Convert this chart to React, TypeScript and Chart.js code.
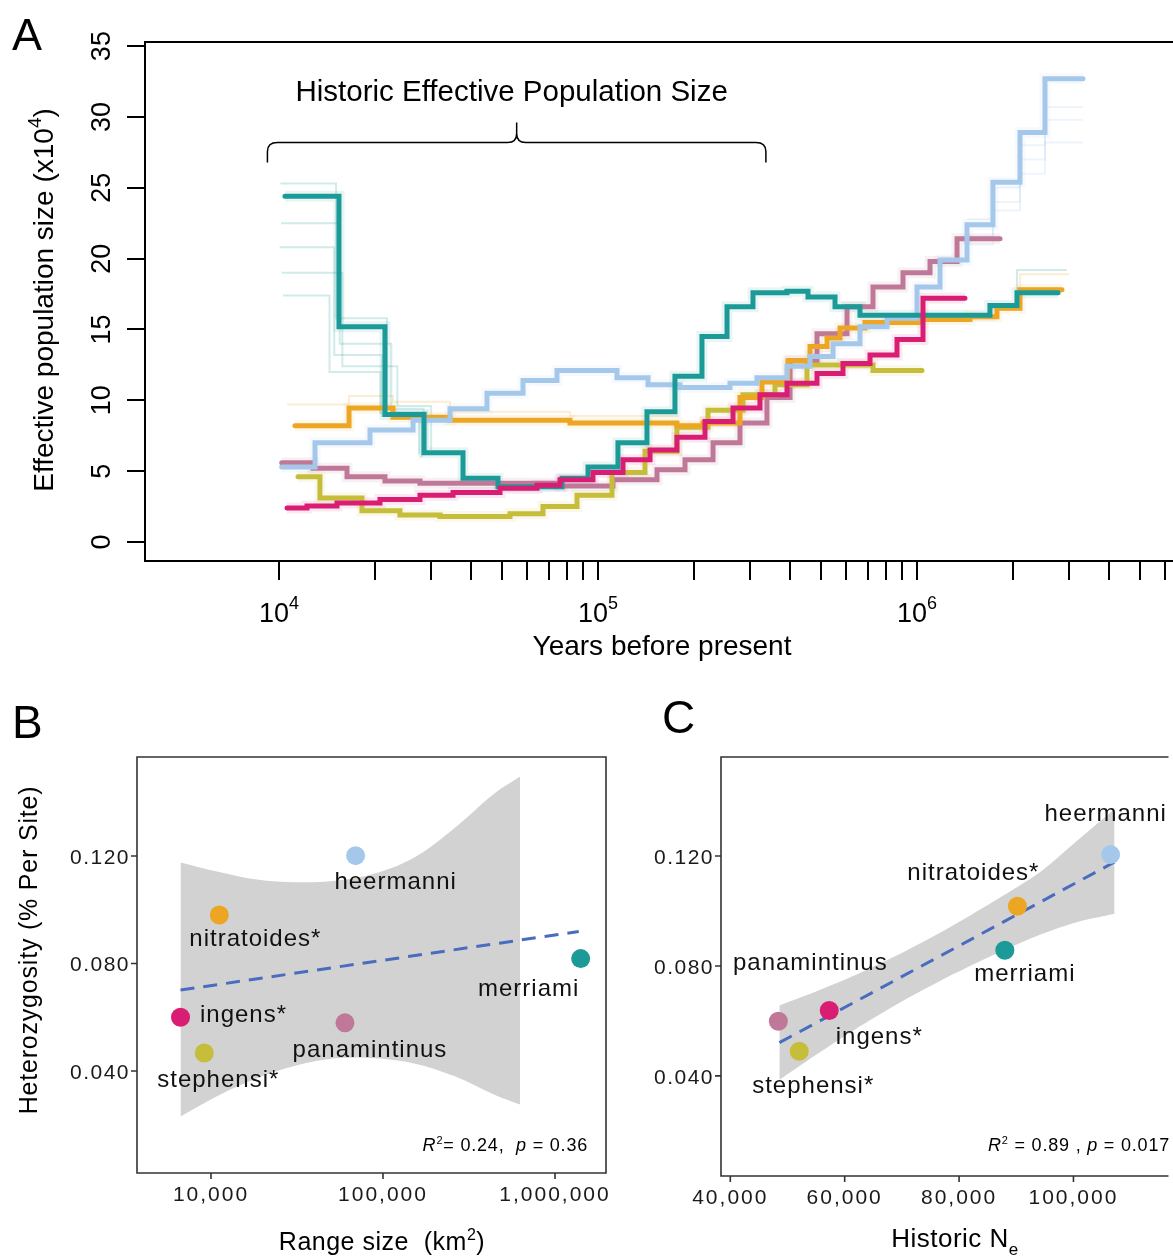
import React, { useEffect, useRef } from "react";
import { Chart, registerables } from "chart.js";

Chart.register(...registerables);

const FONT = '"Liberation Sans", Arial, Helvetica, sans-serif';

// ---------------- colours per species ----------------
const C_HEERMANNI = "#a5c8ea";
const C_NITRATOIDES = "#eca623";
const C_MERRIAMI = "#1b9a98";
const C_INGENS = "#d81d73";
const C_PANAMINTINUS = "#bf7898";
const C_STEPHENSI = "#c6bd3b";

// ---------------- Panel A: PSMC (years before present, Ne x10^4) ----------------
const merriamiYears = [10440, 15420, 21490, 28480, 37750, 48590, 77140, 93050, 115500, 142400, 174300, 211800, 253800, 306100, 391300, 455300, 553400, 662700, 1693000, 2058000, 2767000];
const merriamiNe = [24.4, 15.2, 9.0, 6.3, 4.5, 3.9, 4.5, 5.3, 7.0, 9.2, 11.7, 14.5, 16.6, 17.6, 17.7, 17.3, 16.6, 16.0, 16.7, 17.6, 17.6];

const heermanniYears = [10200, 12970, 19290, 26320, 34370, 44870, 58200, 74370, 114700, 143500, 180700, 259300, 315000, 391300, 462000, 545500, 662700, 805400, 1000000, 1181000, 1434500, 1730000, 2103000, 2519000, 3314000];
const heermanniNe = [5.3, 7.0, 7.9, 8.6, 9.4, 10.5, 11.4, 12.1, 11.6, 11.1, 10.9, 11.2, 11.6, 12.4, 13.1, 14.0, 15.2, 15.8, 18.0, 19.9, 22.4, 25.4, 28.9, 32.7, 32.7];

const nitratoidesYears = [11220, 16580, 22780, 34370, 81700, 176800, 213400, 278700, 326600, 394100, 462000, 522400, 573700, 687000, 1021900, 1466000, 1781000, 2103000, 2848000];
const nitratoidesNe = [8.2, 9.45, 8.8, 8.6, 8.4, 8.2, 8.4, 10.2, 11.3, 12.8, 13.8, 14.4, 15.1, 15.5, 15.7, 15.9, 16.5, 17.8, 17.8];

const panamintinusYears = [10200, 12780, 16340, 21490, 27670, 76020, 111400, 153100, 187400, 229400, 278700, 338600, 399900, 485900, 603400, 727900, 903900, 1098600, 1335000, 1821000];
const panamintinusNe = [5.6, 5.2, 4.6, 4.3, 4.15, 3.95, 4.4, 5.1, 5.8, 7.0, 8.4, 10.2, 12.8, 14.7, 16.6, 18.0, 19.0, 19.8, 21.4, 21.4];

const ingensYears = [10600, 12240, 15200, 20730, 27670, 35130, 49300, 64400, 76020, 96450, 119800, 145600, 176800, 216500, 265000, 321900, 391300, 485900, 586200, 712400, 865600, 1044300, 1414000];
const ingensNe = [2.4, 2.55, 2.75, 3.0, 3.3, 3.5, 3.8, 4.0, 4.4, 4.9, 5.8, 6.5, 7.4, 8.5, 9.45, 10.4, 11.2, 11.9, 12.6, 13.2, 14.3, 17.2, 17.2];

const stephensiYears = [11470, 13440, 18200, 23940, 31960, 52990, 67230, 85950, 110650, 140400, 176800, 221200, 284800, 358800, 452000, 727900, 1036800];
const stephensiNe = [4.6, 3.1, 2.2, 1.9, 1.8, 2.0, 2.5, 3.3, 4.9, 6.4, 8.1, 9.3, 10.4, 11.1, 12.5, 12.1, 12.1];

// faint bootstrap replicates
const merriamiBoot1Years = [10100, 15100, 21800, 28400];
const merriamiBoot1Ne = [25.3, 15.8, 9.4, 6.4];
const merriamiBoot2Years = [10150, 15500, 22500, 29000];
const merriamiBoot2Ne = [22.5, 14.0, 9.2, 6.2];
const merriamiBoot3Years = [10050, 14900, 21000, 28000];
const merriamiBoot3Ne = [20.8, 13.2, 8.9, 6.0];
const merriamiBoot4Years = [10200, 15800, 23500, 30000];
const merriamiBoot4Ne = [19.0, 12.4, 9.6, 6.5];
const merriamiBoot5Years = [10300, 14400, 20800, 27500];
const merriamiBoot5Ne = [17.4, 12.0, 9.1, 6.2];
const merriamiLateBootYears = [1693000, 2058000, 2950000];
const merriamiLateBootNe = [16.5, 19.2, 19.2];
const heermanniBoot1Years = [1434500, 1730000, 2103000, 2519000, 3314000];
const heermanniBoot1Ne = [21.6, 24.0, 27.0, 28.2, 28.2];
const heermanniBoot2Years = [1434500, 1730000, 2103000, 2519000, 3314000];
const heermanniBoot2Ne = [22.8, 25.0, 28.0, 30.7, 30.7];
const heermanniBoot3Years = [1434500, 1730000, 2103000, 2519000, 3314000];
const heermanniBoot3Ne = [21.0, 23.4, 26.0, 29.8, 29.8];
const nitratoidesBoot1Years = [10600, 16580, 22780, 34370, 81700, 176800];
const nitratoidesBoot1Ne = [9.7, 10.3, 9.9, 9.2, 8.9, 8.8];
const nitratoidesBoot2Years = [1781000, 2103000, 3000000];
const nitratoidesBoot2Ne = [16.8, 18.9, 18.9];

const A_Y_TICKS = [0, 5, 10, 15, 20, 25, 30, 35];
const A_X_TICKS = [1e4, 2e4, 3e4, 4e4, 5e4, 6e4, 7e4, 8e4, 9e4, 1e5, 2e5, 3e5, 4e5, 5e5, 6e5, 7e5, 8e5, 9e5, 1e6, 2e6, 3e6, 4e6, 5e6, 6e6];
const A_X_DECADES = [1e4, 1e5, 1e6];
const A_X_EXPONENTS = ["4", "5", "6"];
const BRACE_YEARS = [9200, 336000];
const BRACE_NE = 28.2;

// ---------------- Panels B and C ----------------
const SPECIES = ["heermanni", "nitratoides*", "merriami", "ingens*", "panamintinus", "stephensi*"];
const SPECIES_COLORS = [C_HEERMANNI, C_NITRATOIDES, C_MERRIAMI, C_INGENS, C_PANAMINTINUS, C_STEPHENSI];

const rangeSizeKm2 = [69300, 11180, 1410000, 6650, 60100, 9140];
const hetRange = [0.1201, 0.098, 0.0818, 0.06, 0.0579, 0.0467];
const rangeFitX = [6650, 1374000];
const rangeFitY = [0.0701, 0.0919];
const rangeBandX = [6647, 10830, 18410, 31290, 53190, 90420, 153700, 261200, 444100, 626900];
const rangeBandUpper = [0.1176, 0.1142, 0.1112, 0.1102, 0.1108, 0.1135, 0.1196, 0.1304, 0.1432, 0.1495];
const rangeBandLower = [0.0231, 0.0306, 0.0373, 0.042, 0.0447, 0.0447, 0.0427, 0.038, 0.0312, 0.0275];
const B_X_TICKS = [1e4, 1e5, 1e6];
const B_X_LABELS = ["10,000", "100,000", "1,000,000"];

const historicNe = [106500, 90200, 88000, 57300, 48400, 52050];
const hetNe = [0.1205, 0.1017, 0.0857, 0.0638, 0.0599, 0.049];
const neFitX = [48580, 107190];
const neFitY = [0.0521, 0.1178];
const neBandX = [48580, 55000, 62000, 70000, 78000, 86000, 94000, 101000, 107190];
const neBandUpper = [0.0656, 0.0707, 0.0768, 0.0847, 0.0936, 0.1034, 0.1139, 0.1262, 0.137];
const neBandLower = [0.0386, 0.0477, 0.0572, 0.0671, 0.076, 0.084, 0.0913, 0.0962, 0.099];
const C_X_TICKS = [40000, 60000, 80000, 100000];
const C_X_LABELS = ["40,000", "60,000", "80,000", "100,000"];

const HET_TICKS = [0.04, 0.08, 0.12];
const HET_LABELS = ["0.040", "0.080", "0.120"];

// label offsets (px) from each point, per panel
const B_LABEL_OFFSETS = [[40, 25], [36, 23], [-52, 29], [63, -3], [25, 26], [14, 26]];
const C_LABEL_OFFSETS = [[-5, -42], [-44, -34], [20, 23], [50, 26], [32, -59], [14, 34]];

// ---------------- helpers ----------------
const pts = (xs: number[], ys: number[]) => xs.map((x, i) => ({ x, y: ys[i] }));

function hexA(hex: string, a: number) {
  const n = parseInt(hex.slice(1), 16);
  return `rgba(${(n >> 16) & 255},${(n >> 8) & 255},${n & 255},${a})`;
}

type Seg = { t: string; size: number; rise?: number; italic?: boolean };

function drawRich(ctx: any, segs: Seg[], x: number, y: number, align: string, spacing = 0) {
  ctx.textAlign = "left";
  ctx.textBaseline = "alphabetic";
  const fontOf = (s: Seg) => `${s.italic ? "italic " : ""}${s.size}px ${FONT}`;
  ctx.letterSpacing = `${spacing}px`;
  const widths = segs.map((s) => {
    ctx.font = fontOf(s);
    return ctx.measureText(s.t).width;
  });
  const total = widths.reduce((a, b) => a + b, 0);
  let cx = align === "left" ? x : align === "center" ? x - total / 2 : x - total;
  segs.forEach((s, i) => {
    ctx.font = fontOf(s);
    ctx.fillText(s.t, cx, y - (s.rise || 0));
    cx += widths[i];
  });
  ctx.letterSpacing = "0px";
}

// ---------------- Panel A ----------------
const panelAOverlay = {
  id: "panelAOverlay",
  afterDraw(chart: any) {
    const { ctx, chartArea: a } = chart;
    const xs = chart.scales.x;
    const ys = chart.scales.y;
    ctx.save();
    ctx.strokeStyle = "#000";
    ctx.fillStyle = "#000";
    ctx.lineWidth = 2;
    ctx.beginPath();
    ctx.moveTo(a.right + 5, a.top);
    ctx.lineTo(a.left, a.top);
    ctx.lineTo(a.left, a.bottom);
    ctx.lineTo(a.right + 5, a.bottom);
    ctx.stroke();

    ctx.beginPath();
    A_X_TICKS.forEach((v) => {
      const px = Math.round(xs.getPixelForValue(v));
      ctx.moveTo(px, a.bottom);
      ctx.lineTo(px, a.bottom + 19);
    });
    A_Y_TICKS.forEach((v) => {
      const py = Math.round(ys.getPixelForValue(v));
      ctx.moveTo(a.left - 18, py);
      ctx.lineTo(a.left, py);
    });
    ctx.stroke();

    // y tick labels (rotated)
    A_Y_TICKS.forEach((v) => {
      const py = ys.getPixelForValue(v);
      ctx.save();
      ctx.translate(110, py);
      ctx.rotate(-Math.PI / 2);
      drawRich(ctx, [{ t: String(v), size: 27 }], 0, 0, "center");
      ctx.restore();
    });

    // x decade labels
    A_X_DECADES.forEach((v, i) => {
      drawRich(ctx, [{ t: "10", size: 27 }, { t: A_X_EXPONENTS[i], size: 18, rise: 13 }], xs.getPixelForValue(v), 622, "center");
    });

    // axis titles
    drawRich(ctx, [{ t: "Years before present", size: 28 }], 662, 655, "center");
    ctx.save();
    ctx.translate(53, 300);
    ctx.rotate(-Math.PI / 2);
    drawRich(ctx, [{ t: "Effective population size (x10", size: 28 }, { t: "4", size: 19, rise: 12 }, { t: ")", size: 28 }], 0, 0, "center");
    ctx.restore();

    // brace annotation
    const x1 = xs.getPixelForValue(BRACE_YEARS[0]);
    const x2 = xs.getPixelForValue(BRACE_YEARS[1]);
    const xm = (x1 + x2) / 2;
    const by = ys.getPixelForValue(BRACE_NE);
    ctx.lineWidth = 1.5;
    ctx.beginPath();
    ctx.moveTo(x1, by + 20);
    ctx.lineTo(x1, by + 9);
    ctx.quadraticCurveTo(x1, by, x1 + 10, by);
    ctx.lineTo(xm - 9, by);
    ctx.quadraticCurveTo(xm, by, xm, by - 9);
    ctx.lineTo(xm, by - 20);
    ctx.moveTo(xm, by - 9);
    ctx.quadraticCurveTo(xm, by, xm + 9, by);
    ctx.lineTo(x2 - 10, by);
    ctx.quadraticCurveTo(x2, by, x2, by + 9);
    ctx.lineTo(x2, by + 20);
    ctx.stroke();
    drawRich(ctx, [{ t: "Historic Effective Population Size", size: 29.5 }], xm - 5, by - 41, "center");

    // panel letter
    drawRich(ctx, [{ t: "A", size: 45 }], 12, 50, "left");
    ctx.restore();
  },
};

function makePanelA() {
  const series = [
    { years: panamintinusYears, ne: panamintinusNe, color: C_PANAMINTINUS, order: 6 },
    { years: stephensiYears, ne: stephensiNe, color: C_STEPHENSI, order: 5 },
    { years: nitratoidesYears, ne: nitratoidesNe, color: C_NITRATOIDES, order: 4 },
    { years: heermanniYears, ne: heermanniNe, color: C_HEERMANNI, order: 3 },
    { years: merriamiYears, ne: merriamiNe, color: C_MERRIAMI, order: 2 },
    { years: ingensYears, ne: ingensNe, color: C_INGENS, order: 1 },
  ];
  const boots = [
    { years: merriamiBoot1Years, ne: merriamiBoot1Ne, color: C_MERRIAMI },
    { years: merriamiBoot2Years, ne: merriamiBoot2Ne, color: C_MERRIAMI },
    { years: merriamiBoot3Years, ne: merriamiBoot3Ne, color: C_MERRIAMI },
    { years: merriamiBoot4Years, ne: merriamiBoot4Ne, color: C_MERRIAMI },
    { years: merriamiBoot5Years, ne: merriamiBoot5Ne, color: C_MERRIAMI },
    { years: merriamiLateBootYears, ne: merriamiLateBootNe, color: C_MERRIAMI },
    { years: heermanniBoot1Years, ne: heermanniBoot1Ne, color: C_HEERMANNI },
    { years: heermanniBoot2Years, ne: heermanniBoot2Ne, color: C_HEERMANNI },
    { years: heermanniBoot3Years, ne: heermanniBoot3Ne, color: C_HEERMANNI },
    { years: nitratoidesBoot1Years, ne: nitratoidesBoot1Ne, color: C_NITRATOIDES },
    { years: nitratoidesBoot2Years, ne: nitratoidesBoot2Ne, color: C_NITRATOIDES },
  ];
  const datasets: any[] = [];
  series.forEach((s) =>
    datasets.push({ data: pts(s.years, s.ne), borderColor: hexA(s.color, 0.1), borderWidth: 11, stepped: true, pointRadius: 0, order: 30, borderCapStyle: "butt" })
  );
  boots.forEach((b) =>
    datasets.push({ data: pts(b.years, b.ne), borderColor: hexA(b.color, 0.2), borderWidth: 2, stepped: true, pointRadius: 0, order: 20 })
  );
  series.forEach((s) =>
    datasets.push({ data: pts(s.years, s.ne), borderColor: s.color, borderWidth: 5, stepped: true, pointRadius: 0, order: s.order, borderCapStyle: "round", borderJoinStyle: "miter" })
  );
  return {
    type: "line",
    data: { datasets },
    options: {
      animation: false,
      responsive: false,
      events: [],
      layout: { padding: { left: 145, right: 0, top: 42, bottom: 119 } },
      plugins: { legend: { display: false }, tooltip: { enabled: false } },
      scales: {
        x: { type: "logarithmic", min: 3802, max: 6346000, display: false },
        y: { type: "linear", min: -1.34, max: 35.29, display: false },
      },
    },
    plugins: [panelAOverlay],
  };
}

// ---------------- Panels B / C ----------------
function scatterOverlay(o: any) {
  return {
    id: "overlay" + o.letter,
    afterDatasetsDraw(chart: any) {
      const { ctx } = chart;
      ctx.save();
      ctx.fillStyle = "#111";
      const meta = chart.getDatasetMeta(o.pointsIndex);
      meta.data.forEach((pt: any, i: number) => {
        drawRich(ctx, [{ t: SPECIES[i], size: 24 }], pt.x + o.offsets[i][0], pt.y + o.offsets[i][1] + 8, "center", 1);
      });
      ctx.restore();
    },
    afterDraw(chart: any) {
      const { ctx, chartArea: a } = chart;
      const xs = chart.scales.x;
      const ys = chart.scales.y;
      ctx.save();
      ctx.strokeStyle = "#333";
      ctx.fillStyle = "#1a1a1a";
      ctx.lineWidth = 1.6;
      ctx.beginPath();
      if (o.closeRight) {
        ctx.rect(a.left, a.top, a.right - a.left, a.bottom - a.top);
      } else {
        ctx.moveTo(a.right + 5, a.top);
        ctx.lineTo(a.left, a.top);
        ctx.lineTo(a.left, a.bottom);
        ctx.lineTo(a.right + 5, a.bottom);
      }
      ctx.stroke();
      ctx.beginPath();
      o.xTicks.forEach((v: number) => {
        const px = xs.getPixelForValue(v);
        ctx.moveTo(px, a.bottom);
        ctx.lineTo(px, a.bottom + 6);
      });
      HET_TICKS.forEach((v) => {
        const py = ys.getPixelForValue(v);
        ctx.moveTo(a.left - 6, py);
        ctx.lineTo(a.left, py);
      });
      ctx.stroke();
      HET_TICKS.forEach((v, i) => {
        drawRich(ctx, [{ t: HET_LABELS[i], size: 21 }], a.left - 7, ys.getPixelForValue(v) + 8, "right", 1.5);
      });
      o.xTicks.forEach((v: number, i: number) => {
        drawRich(ctx, [{ t: o.xLabels[i], size: 21 }], xs.getPixelForValue(v), a.bottom + 28, "center", 2);
      });
      ctx.fillStyle = "#000";
      drawRich(ctx, o.xTitle, o.xTitlePos[0], o.xTitlePos[1], "center", 0.5);
      if (o.yTitle) {
        ctx.save();
        ctx.translate(o.yTitlePos[0], o.yTitlePos[1]);
        ctx.rotate(-Math.PI / 2);
        drawRich(ctx, o.yTitle, 0, 0, "center", 0.8);
        ctx.restore();
      }
      drawRich(ctx, o.stat, o.statPos[0], o.statPos[1], "right", 0.8);
      drawRich(ctx, [{ t: o.letter, size: 46 }], o.letterPos[0], o.letterPos[1], "left");
      ctx.restore();
    },
  };
}

function scatterDatasets(bx: number[], bu: number[], bl: number[], fx: number[], fy: number[], px: number[], py: number[], tension: number) {
  return [
    { data: pts(bx, bu), borderWidth: 0, borderColor: "rgba(0,0,0,0)", pointRadius: 0, fill: "+1", backgroundColor: "#d2d2d2", tension, order: 10 },
    { data: pts(bx, bl), borderWidth: 0, borderColor: "rgba(0,0,0,0)", pointRadius: 0, fill: false, tension, order: 10 },
    { data: pts(fx, fy), borderColor: "#4a6cbf", borderWidth: 3, borderDash: [14, 9], pointRadius: 0, fill: false, order: 5 },
    { data: pts(px, py), showLine: false, pointRadius: 9.5, pointHoverRadius: 9.5, pointBorderWidth: 0, pointBackgroundColor: SPECIES_COLORS, pointBorderColor: SPECIES_COLORS, order: 1 },
  ];
}

function makePanelB() {
  return {
    type: "line",
    data: { datasets: scatterDatasets(rangeBandX, rangeBandUpper, rangeBandLower, rangeFitX, rangeFitY, rangeSizeKm2, hetRange, 0.35) },
    options: {
      animation: false,
      responsive: false,
      events: [],
      layout: { padding: { left: 137, right: 14, top: 77, bottom: 83 } },
      plugins: { legend: { display: false }, tooltip: { enabled: false } },
      scales: {
        x: { type: "logarithmic", min: 3714, max: 1979000, display: false },
        y: { type: "linear", min: 0.00205, max: 0.1568, display: false },
      },
    },
    plugins: [
      scatterOverlay({
        letter: "B",
        letterPos: [12, 58],
        pointsIndex: 3,
        offsets: B_LABEL_OFFSETS,
        xTicks: B_X_TICKS,
        xLabels: B_X_LABELS,
        closeRight: true,
        xTitle: [{ t: "Range size  (km", size: 25 }, { t: "2", size: 16, rise: 10 }, { t: ")", size: 25 }],
        xTitlePos: [382, 570],
        yTitle: [{ t: "Heterozygosity (% Per Site)", size: 25 }],
        yTitlePos: [37, 270],
        stat: [{ t: "R", size: 18, italic: true }, { t: "2", size: 11, rise: 7 }, { t: "= 0.24,  ", size: 18 }, { t: "p", size: 18, italic: true }, { t: " = 0.36", size: 18 }],
        statPos: [588, 471],
      }),
    ],
  };
}

function makePanelC() {
  return {
    type: "line",
    data: { datasets: scatterDatasets(neBandX, neBandUpper, neBandLower, neFitX, neFitY, historicNe, hetNe, 0.25) },
    options: {
      animation: false,
      responsive: false,
      events: [],
      layout: { padding: { left: 101, right: 0, top: 77, bottom: 80 } },
      plugins: { legend: { display: false }, tooltip: { enabled: false } },
      scales: {
        x: { type: "linear", min: 38374, max: 115744, display: false },
        y: { type: "linear", min: 0.0036, max: 0.156, display: false },
      },
    },
    plugins: [
      scatterOverlay({
        letter: "C",
        letterPos: [42, 53],
        pointsIndex: 3,
        offsets: C_LABEL_OFFSETS,
        xTicks: C_X_TICKS,
        xLabels: C_X_LABELS,
        closeRight: false,
        xTitle: [{ t: "Historic N", size: 26 }, { t: "e", size: 17, rise: -8 }],
        xTitlePos: [335, 567],
        stat: [{ t: "R", size: 18, italic: true }, { t: "2", size: 11, rise: 7 }, { t: " = 0.89 , ", size: 18 }, { t: "p", size: 18, italic: true }, { t: " = 0.017", size: 18 }],
        statPos: [550, 471],
      }),
    ],
  };
}

function ChartCanvas(props: { make: () => any; width: number; height: number; left: number; top: number }) {
  const ref = useRef<HTMLCanvasElement>(null);
  useEffect(() => {
    const chart = new Chart(ref.current as HTMLCanvasElement, props.make());
    return () => chart.destroy();
  }, []);
  return (
    <canvas
      ref={ref}
      width={props.width}
      height={props.height}
      style={{ position: "absolute", left: props.left, top: props.top, width: props.width, height: props.height }}
    />
  );
}

export default function App() {
  return (
    <div style={{ position: "fixed", left: 0, top: 0, width: 1173, height: 1256, overflow: "hidden", background: "#fff" }}>
      <ChartCanvas make={makePanelA} width={1173} height={680} left={0} top={0} />
      <ChartCanvas make={makePanelB} width={620} height={576} left={0} top={680} />
      <ChartCanvas make={makePanelC} width={553} height={576} left={620} top={680} />
    </div>
  );
}
